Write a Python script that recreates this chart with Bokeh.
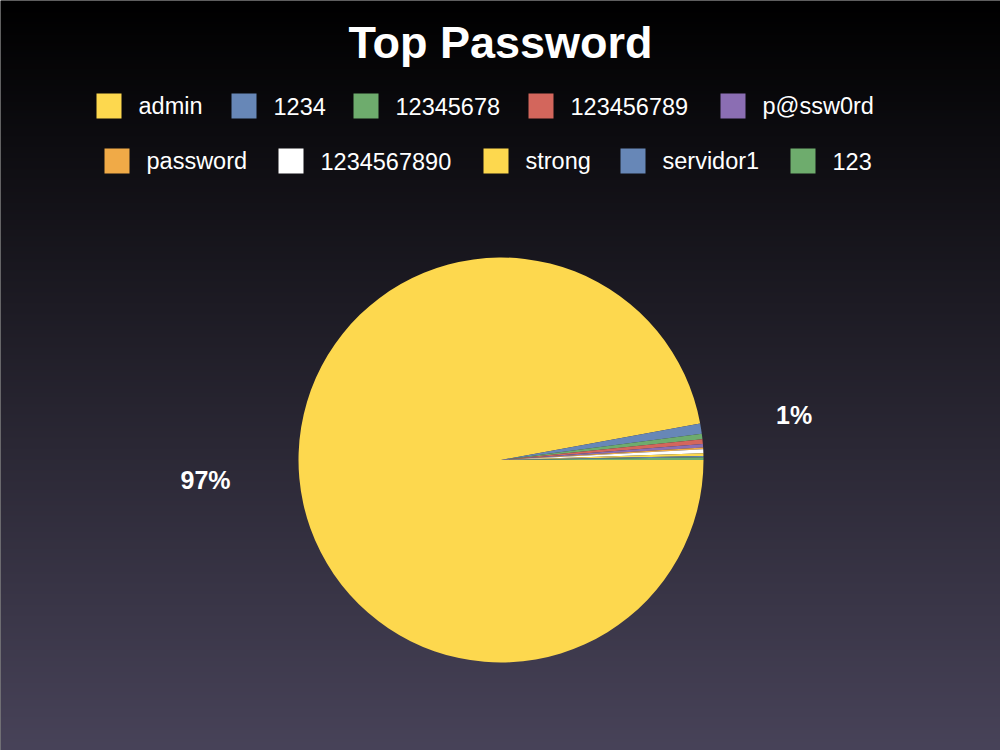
import numpy as np
from bokeh.plotting import figure
from bokeh.models import Range1d, ColumnDataSource
from bokeh.core.properties import value
from bokeh.embed import file_html
from bokeh.resources import INLINE

# ---- data ----
labels = ["admin", "1234", "12345678", "123456789", "p@ssw0rd",
          "password", "1234567890", "strong", "servidor1", "123"]
shares = [97.1, 0.83, 0.42, 0.39, 0.27, 0.13, 0.32, 0.21, 0.11, 0.21]
colors = ["#FDD84E", "#6787B7", "#6EAC6D", "#D3665C", "#8B6EB3",
          "#F0AA47", "#FFFFFF", "#FDD84E", "#6787B7", "#6EAC6D"]
title_text = "Top Password"

# ---- layout constants ----
W, H = 1000, 750
CX, CY, R = 500.5, 750 - 459.5, 202.5
row1_sq = [96, 231, 353, 528, 720]
row2_sq = [104, 278, 483, 620, 790]
row_y = [750 - 105.5, 750 - 160.5]

p = figure(width=W, height=H, x_range=Range1d(0, W), y_range=Range1d(0, H),
           output_backend="svg", toolbar_location=None, min_border=0,
           outline_line_color=None)
p.axis.visible = False
p.grid.visible = False
p.background_fill_color = "#000000"
p.border_fill_color = "#000000"

# background gradient
top = np.array([0, 0, 0], dtype=float)
bot = np.array([72, 67, 89], dtype=float)
img = np.zeros((H, 1), dtype=np.uint32)
view = img.view(dtype=np.uint8).reshape((H, 1, 4))
for i in range(H):
    t = (H - 1 - i) / (H - 1)
    c = top + (bot - top) * t
    view[i, 0, 0] = int(c[0]); view[i, 0, 1] = int(c[1]); view[i, 0, 2] = int(c[2]); view[i, 0, 3] = 255
p.image_rgba(image=[img], x=0, y=0, dw=W, dh=H)

# pie
total = sum(shares)
frac = np.array(shares) / total
cum = np.concatenate([[0], np.cumsum(frac)])
start = -cum[1:] * 2 * np.pi
end = -cum[:-1] * 2 * np.pi
src = ColumnDataSource(dict(start=start, end=end, color=colors, label=labels))
p.wedge(x=CX, y=CY, radius=R, start_angle="start", end_angle="end",
        fill_color="color", line_color=None, source=src)

# percentage labels (only for slices >= 0.5%)
lx, ly, lt = [], [], []
for i, f in enumerate(frac):
    if f * 100 >= 0.5:
        mid = -(cum[i] + cum[i + 1]) / 2 * 2 * np.pi
        lx.append(CX + 1.465 * R * np.cos(mid))
        ly.append(CY + 1.465 * R * np.sin(mid) * 0.9 + 4)
        lt.append(f"{round(f * 100)}%")
p.text(x=lx, y=ly, text=lt, text_color="white", text_font=value("Liberation Sans"),
       text_font_style="bold", text_font_size="25px", text_align="center",
       text_baseline="middle")

# title
p.text(x=[W / 2], y=[750 - 42], text=[title_text], text_color="white",
       text_font=value("Liberation Sans"), text_font_style="bold",
       text_font_size="45px", text_align="center", text_baseline="middle")

# legend
sq_x = row1_sq + row2_sq
sq_y = [row_y[0]] * 5 + [row_y[1]] * 5
p.rect(x=[x + 12.5 for x in sq_x], y=sq_y, width=25, height=25,
       fill_color=colors, line_color=None)
p.text(x=[x + 42 for x in sq_x], y=sq_y, text=labels, text_color="white",
       text_font=value("Liberation Sans"), text_font_size="23.5px",
       text_align="left", text_baseline="middle")

open("out.html", "w").write(file_html(p, INLINE))
